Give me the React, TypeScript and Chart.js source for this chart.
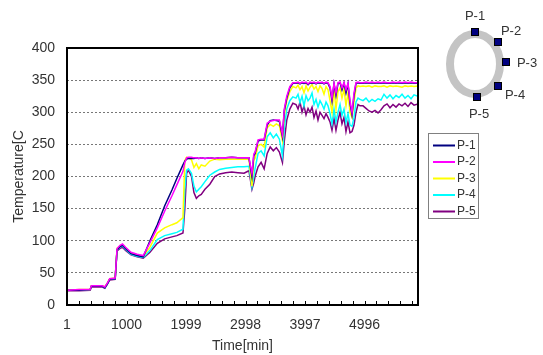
import { useEffect, useRef } from "react";
import { Chart, registerables } from "chart.js";
Chart.register(...registerables);

// ---- data ----
const times = [
  1, 205, 390, 410, 595, 636, 677, 718, 810, 841, 892, 933, 984, 1076, 1179, 1281,
  1394, 1517, 1640, 1763, 1845, 1948, 1979, 2009, 2040,
  2091, 2132, 2173, 2214, 2255, 2317, 2399, 2481, 2563, 2665, 2768, 2870, 2973, 3055, 3106, 3137,
  3158, 3209, 3260, 3311, 3362, 3413, 3465, 3516, 3567, 3618, 3649, 3691, 3742, 3793,
  3846, 3880, 3913, 3947, 3980, 4014, 4048, 4081, 4115, 4148, 4182, 4215, 4249, 4283, 4316, 4350, 4383,
  4417, 4450, 4484, 4517, 4551, 4585, 4618, 4652, 4685, 4719, 4752, 4786, 4820, 4853, 4887, 4921,
  4971, 5021, 5072, 5122, 5172, 5223, 5273, 5323, 5374, 5424, 5474, 5525, 5575, 5626, 5676, 5726, 5777, 5827, 5894,
];

const p1 = [
  23, 23, 24, 29, 29, 27, 33, 40, 41, 86, 91, 93, 88, 80, 77, 75,
  100, 125, 154, 179, 197, 218, 224, 227, 228,
  228, 228, 229, 228, 229, 228, 229, 228, 229, 229, 230, 229, 229, 229, 200, 232,
  236, 255, 257, 257, 280, 287, 288, 287, 286, 262, 302, 322, 338, 345,
  345, 346, 344, 346, 345, 346, 343, 346, 345, 346, 344, 346, 345, 346, 344, 346, 345,
  338, 318, 344, 326, 345, 346, 335, 345, 330, 344, 314, 296, 326, 345, 346, 345,
  345, 346, 345, 346, 345, 346, 345, 346, 345, 345, 346, 345, 346, 345, 346, 345, 346, 345, 345,
];
const p2 = [
  23, 24, 24, 30, 30, 28, 34, 41, 42, 88, 93, 95, 90, 82, 79, 77,
  97, 120, 146, 170, 187, 208, 222, 229, 230,
  230, 229, 229, 228, 229, 228, 229, 228, 229, 229, 230, 229, 229, 229, 205, 235,
  238, 257, 258, 258, 283, 286, 287, 288, 288, 265, 305, 325, 340, 346,
  346, 347, 345, 347, 346, 347, 344, 347, 346, 347, 345, 347, 346, 347, 345, 347, 346,
  340, 322, 345, 330, 346, 347, 338, 346, 335, 345, 318, 300, 330, 346, 347, 346,
  346, 347, 346, 347, 346, 347, 346, 347, 346, 346, 347, 346, 347, 346, 347, 346, 347, 346, 346,
];
const p3 = [
  23, 24, 24, 30, 30, 28, 34, 41, 42, 88, 92, 94, 89, 81, 78, 76,
  90, 112, 120, 125, 128, 136, 225, 230, 229,
  226, 214, 220, 212, 218, 216, 224, 227, 226, 227, 227, 227, 227, 227, 185, 225,
  228, 248, 250, 246, 276, 281, 278, 282, 279, 256, 295, 318, 332, 340,
  338, 342, 335, 340, 330, 341, 333, 339, 343, 336, 340, 332, 341, 337, 328, 340, 335,
  318, 300, 335, 305, 332, 338, 322, 336, 310, 330, 300, 292, 315, 338, 341, 340,
  341, 340, 341, 339, 341, 340, 340, 341, 339, 341, 340, 341, 340, 339, 341, 340, 341, 340, 341,
];
const p4 = [
  23, 23, 24, 29, 29, 27, 33, 40, 41, 86, 90, 92, 87, 79, 76, 74,
  85, 102, 108, 111, 113, 118, 180, 210, 212,
  205, 185, 176, 180, 184, 192, 202, 207, 211, 213, 214, 215, 215, 216, 184, 200,
  212, 236, 240, 232, 262, 268, 260, 266, 258, 232, 275, 305, 318, 324,
  322, 328, 315, 325, 310, 326, 318, 322, 330, 312, 320, 308, 318, 312, 305, 316, 310,
  298, 282, 305, 285, 300, 312, 295, 305, 284, 298, 280, 278, 292, 316, 322, 320,
  318, 322, 316, 320, 317, 321, 319, 328, 322, 327, 321, 326, 323, 328, 322, 326, 321, 327, 325,
];
const p5 = [
  22, 22, 23, 28, 28, 26, 32, 39, 40, 84, 88, 90, 85, 78, 75, 73,
  82, 96, 103, 106, 108, 112, 150, 205, 210,
  200, 175, 166, 170, 172, 180, 188, 200, 204, 206, 207, 206, 205, 209, 180, 190,
  200, 215, 222, 212, 236, 246, 240, 245, 238, 222, 255, 288, 305, 314,
  312, 305, 316, 300, 310, 296, 306, 300, 308, 292, 302, 288, 300, 295, 290, 298, 292,
  285, 272, 290, 272, 288, 300, 282, 292, 270, 285, 268, 270, 280, 300, 312, 310,
  310, 306, 302, 300, 303, 299, 304, 310, 313, 307, 312, 308, 313, 310, 314, 309, 315, 311, 313,
];

const seriesNames = ["P-1", "P-2", "P-3", "P-4", "P-5"];
const seriesValues = [p1, p2, p3, p4, p5];
const seriesColors = ["#000080", "#ff00ff", "#ffff00", "#00ffff", "#800080"];
const seriesOrder = [1, 0, 2, 3, 4];

const xMin = 1;
const xMax = 5894;
const xLabelStep = 999;
const xMinorPerLabel = 5;
const yMin = 0;
const yMax = 400;
const yStep = 50;

// sensor position sketch (P-1..P-5 around the ring)
const sensorMarks = [
  { name: "P-1", mx: 475, my: 32, lx: 475, ly: 16 },
  { name: "P-2", mx: 498, my: 42, lx: 511, ly: 31 },
  { name: "P-3", mx: 506, my: 62, lx: 527, ly: 63 },
  { name: "P-4", mx: 498, my: 86, lx: 515, ly: 95 },
  { name: "P-5", mx: 477, my: 97, lx: 479, ly: 114 },
];

const FONT = "'Liberation Sans', Arial, sans-serif";
const TEXT = "#333333";

const framePlugin = {
  id: "frame",
  afterDatasetsDraw(chart: any) {
    const { ctx, chartArea } = chart;
    const xs = chart.scales.x;
    ctx.save();
    ctx.strokeStyle = "#000";
    ctx.lineWidth = 1;
    xs.ticks.forEach((t: any) => {
      const px = Math.round(xs.getPixelForValue(t.value)) + 0.5;
      ctx.beginPath();
      ctx.moveTo(px, chartArea.bottom);
      ctx.lineTo(px, chartArea.bottom - 4);
      ctx.stroke();
    });
    ctx.lineWidth = 2;
    ctx.strokeRect(chartArea.left, chartArea.top, chartArea.right - chartArea.left, chartArea.bottom - chartArea.top);
    ctx.restore();
  },
};

const legendPlugin = {
  id: "boxLegend",
  afterDraw(chart: any) {
    const ctx = chart.ctx;
    ctx.save();
    ctx.strokeStyle = "#808080";
    ctx.lineWidth = 1;
    ctx.strokeRect(428.5, 133.5, 50, 85);
    ctx.font = `12px ${FONT}`;
    ctx.textBaseline = "middle";
    ctx.textAlign = "left";
    chart.data.datasets.forEach((ds: any, i: number) => {
      const y = 145.5 + i * 16.5;
      ctx.strokeStyle = ds.borderColor;
      ctx.lineWidth = 2;
      ctx.beginPath();
      ctx.moveTo(433, y);
      ctx.lineTo(455, y);
      ctx.stroke();
      ctx.fillStyle = TEXT;
      ctx.fillText(ds.label, 457, y);
    });
    ctx.restore();
  },
};

const sketchPlugin = {
  id: "sketch",
  afterDraw(chart: any) {
    const ctx = chart.ctx;
    ctx.save();
    ctx.strokeStyle = "#c4c4c4";
    ctx.lineWidth = 8;
    ctx.beginPath();
    ctx.ellipse(475, 64, 25, 30, 0, 0, Math.PI * 2);
    ctx.stroke();
    ctx.font = `13px ${FONT}`;
    ctx.textAlign = "center";
    ctx.textBaseline = "middle";
    sensorMarks.forEach((m) => {
      ctx.fillStyle = "#000080";
      ctx.fillRect(m.mx - 4, m.my - 4, 8, 8);
      ctx.strokeStyle = "#000";
      ctx.lineWidth = 1;
      ctx.strokeRect(m.mx - 3.5, m.my - 3.5, 7, 7);
      ctx.fillStyle = TEXT;
      ctx.fillText(m.name, m.lx, m.ly);
    });
    ctx.restore();
  },
};

export default function App() {
  const ref = useRef<HTMLCanvasElement | null>(null);
  useEffect(() => {
    if (!ref.current) return;
    const datasets = seriesNames.map((name, i) => ({
      label: name,
      data: times.map((t, k) => ({ x: t, y: seriesValues[i][k] })),
      borderColor: seriesColors[i],
      backgroundColor: seriesColors[i],
      borderWidth: 1.5,
      pointRadius: 0,
      tension: 0,
      fill: false,
      order: seriesOrder[i],
    }));
    const chart = new Chart(ref.current, {
      type: "line",
      data: { datasets },
      plugins: [framePlugin, legendPlugin, sketchPlugin],
      options: {
        animation: false,
        responsive: false,
        layout: { padding: { left: 0, right: 125, top: 48, bottom: 0 } },
        plugins: { legend: { display: false }, tooltip: { enabled: false } },
        scales: {
          x: {
            type: "linear",
            min: xMin,
            max: xMax,
            grid: { display: false, drawTicks: false },
            border: { display: false },
            afterBuildTicks: (s: any) => {
              const step = xLabelStep / xMinorPerLabel;
              const arr: any[] = [];
              for (let k = 0; xMin + k * step <= xMax; k++) arr.push({ value: xMin + k * step });
              s.ticks = arr;
            },
            afterFit: (s: any) => {
              s.height = 50;
            },
            ticks: {
              autoSkip: false,
              maxRotation: 0,
              padding: 12,
              color: TEXT,
              font: { size: 14, family: FONT },
              callback: (v: any, i: number) => (i % xMinorPerLabel === 0 ? String(Math.round(v)) : ""),
            },
            title: {
              display: true,
              text: "Time[min]",
              color: TEXT,
              font: { size: 14, family: FONT },
              padding: { top: 0, bottom: 0 },
            },
          },
          y: {
            min: yMin,
            max: yMax,
            ticks: {
              stepSize: yStep,
              padding: 12,
              color: TEXT,
              font: { size: 14, family: FONT },
            },
            grid: {
              drawTicks: false,
              color: (c: any) => (c.tick && (c.tick.value === yMin || c.tick.value === yMax) ? "rgba(0,0,0,0)" : "#777777"),
              lineWidth: 1,
            },
            border: { display: false, dash: [2, 2] },
            afterFit: (s: any) => {
              s.width = 67;
            },
            title: {
              display: true,
              text: "Temperature[C",
              color: TEXT,
              font: { size: 14, family: FONT },
              padding: { top: 11, bottom: 0 },
            },
          },
        },
      },
    });
    return () => chart.destroy();
  }, []);
  return (
    <div style={{ position: "fixed", left: 0, top: 0, width: 543, height: 355, background: "#fff" }}>
      <canvas ref={ref} width={543} height={355} />
    </div>
  );
}
